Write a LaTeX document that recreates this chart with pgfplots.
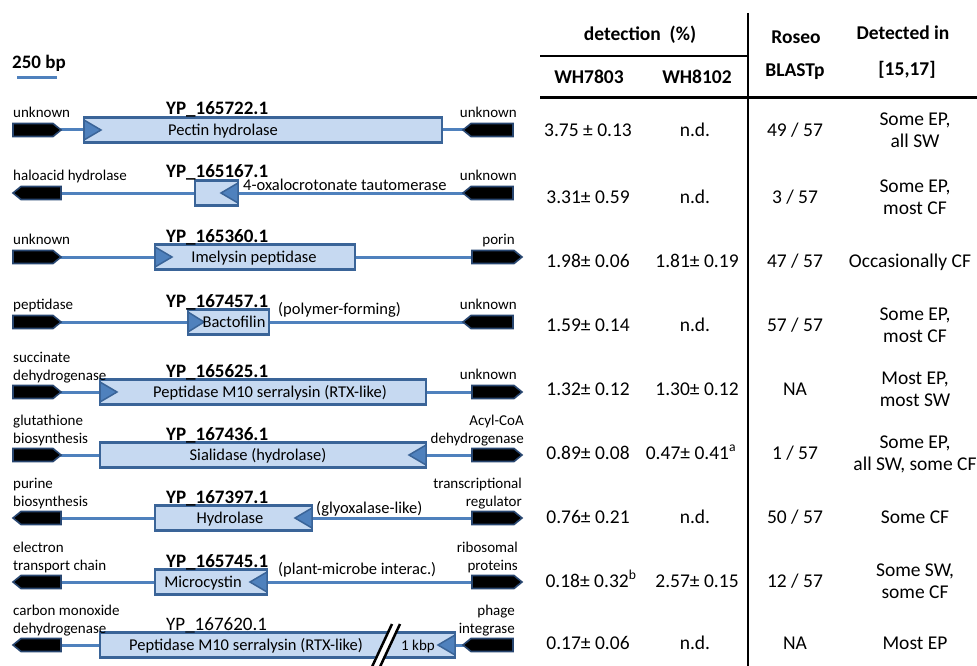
\documentclass[border=0pt]{standalone}
\usepackage{pgfplots}
\pgfplotsset{compat=1.18}
\usepackage{fontspec}
\setmainfont{Carlito}
\definecolor{boxfill}{RGB}{198,217,241}
\definecolor{boxborder}{RGB}{58,100,152}
\definecolor{conncol}{RGB}{79,129,189}
\definecolor{trifill}{RGB}{79,129,189}
\definecolor{arrborder}{RGB}{40,70,112}
\newcommand\fs{\fontsize{15}{18}\selectfont}
\newcommand\fg{\fontsize{16.5}{19}\selectfont}
\newcommand\fid{\fontsize{19}{22}\selectfont\bfseries}
\newcommand\fidn{\fontsize{19}{22}\selectfont}
\newcommand\ft{\fontsize{19.5}{22}\selectfont}
\newcommand\fh{\fontsize{19.5}{23}\selectfont\bfseries}
% black neighbour-gene arrow: back x, neck x, tip x, centre y
\newcommand{\blk}[4]{%
  \pgfmathsetmacro\ya{#4-6.5}\pgfmathsetmacro\yb{#4+6.5}%
  \addplot[fill=black, draw=arrborder, line width=1.6pt, line join=miter, mark=none]
    coordinates {(#1,\ya) (#2,\ya) (#3,#4) (#2,\yb) (#1,\yb)} --cycle;}
% connector line
\newcommand{\conn}[3]{%
  \addplot[draw=conncol, line width=3pt, mark=none] coordinates {(#1,#3) (#2,#3)};}
% gene box
\newcommand{\gbox}[3]{%
  \pgfmathsetmacro\ya{#3-12.5}\pgfmathsetmacro\yb{#3+12.5}%
  \addplot[fill=boxfill, draw=boxborder, line width=2.5pt, line join=miter, mark=none]
    coordinates {(#1,\ya) (#2,\ya) (#2,\yb) (#1,\yb)} --cycle;}
% triangle: base x, tip x, centre y
\newcommand{\tri}[3]{%
  \pgfmathsetmacro\ya{#3-10}\pgfmathsetmacro\yb{#3+10}%
  \addplot[fill=trifill, draw=boxborder, line width=1.5pt, line join=miter, mark=none]
    coordinates {(#1,\ya) (#2,#3) (#1,\yb)} --cycle;}
\begin{document}
\begin{tikzpicture}
\begin{axis}[name=ax, scale only axis, width=977pt, height=666pt,
  xmin=0, xmax=977, ymin=0, ymax=666, y dir=reverse, hide axis, clip=false]
\addplot[draw=none, mark=none] coordinates {(0,0) (977,666)};
% ---------- scale bar ----------
\addplot[draw=conncol, line width=3pt, mark=none] coordinates {(17,78) (57,78)};
\node[anchor=base west, font=\fid, inner sep=0pt] at (axis cs:12,69) {250 bp};
% ---------- row 1 (c=130) ----------
\conn{55}{470}{130}
\blk{13}{53}{61}{130}
\blk{513}{471}{463}{130}
\gbox{84}{442}{130}
\tri{84}{101}{130}
\node[anchor=base west, font=\fs, inner sep=0pt] at (axis cs:13,117.5) {unknown};
\node[anchor=base east, font=\fs, inner sep=0pt] at (axis cs:517,117.5) {unknown};
\node[anchor=base west, font=\fid, inner sep=0pt] at (axis cs:166,115) {YP\_165722.1};
\node[anchor=base, font=\fg, inner sep=0pt] at (axis cs:223,135.5) {Pectin hydrolase};
% ---------- row 2 (c=193) ----------
\conn{55}{470}{193}
\blk{61}{21}{13}{193}
\blk{513}{471}{463}{193}
\gbox{195}{238}{193}
\tri{238}{221}{193}
\node[anchor=base west, font=\fs, inner sep=0pt] at (axis cs:13,180.5) {haloacid hydrolase};
\node[anchor=base east, font=\fs, inner sep=0pt] at (axis cs:517,180.5) {unknown};
\node[anchor=base west, font=\fid, inner sep=0pt] at (axis cs:166,178) {YP\_165167.1};
\node[anchor=base west, font=\fg, inner sep=0pt] at (axis cs:243,190) {4-oxalocrotonate tautomerase};
% ---------- row 3 (c=257) ----------
\conn{55}{478}{257}
\blk{13}{53}{61}{257}
\blk{472}{514}{522}{257}
\gbox{155}{355}{257}
\tri{155}{172}{257}
\node[anchor=base west, font=\fs, inner sep=0pt] at (axis cs:13,244.5) {unknown};
\node[anchor=base east, font=\fs, inner sep=0pt] at (axis cs:515,244.5) {porin};
\node[anchor=base west, font=\fid, inner sep=0pt] at (axis cs:166,242) {YP\_165360.1};
\node[anchor=base, font=\fg, inner sep=0pt] at (axis cs:254,262.5) {Imelysin peptidase};
% ---------- row 4 (c=322) ----------
\conn{55}{470}{322}
\blk{13}{53}{61}{322}
\blk{513}{471}{463}{322}
\gbox{188}{269}{322}
\tri{188}{204}{322}
\node[anchor=base west, font=\fs, inner sep=0pt] at (axis cs:13,309.5) {peptidase};
\node[anchor=base east, font=\fs, inner sep=0pt] at (axis cs:517,309.5) {unknown};
\node[anchor=base west, font=\fid, inner sep=0pt] at (axis cs:166,307) {YP\_167457.1};
\node[anchor=base, font=\fg, inner sep=0pt] at (axis cs:234,327.5) {Bactofilin};
\node[anchor=base west, font=\fg, inner sep=0pt] at (axis cs:278,314) {(polymer-forming)};
% ---------- row 5 (c=392) ----------
\conn{55}{478}{392}
\blk{13}{53}{61}{392}
\blk{472}{514}{522}{392}
\gbox{100}{426}{392}
\tri{100}{117}{392}
\node[anchor=base west, font=\fs, inner sep=0pt] at (axis cs:13,362.5) {succinate};
\node[anchor=base west, font=\fs, inner sep=0pt] at (axis cs:13,380.5) {dehydrogenase};
\node[anchor=base east, font=\fs, inner sep=0pt] at (axis cs:517,379.5) {unknown};
\node[anchor=base west, font=\fid, inner sep=0pt] at (axis cs:166,377) {YP\_165625.1};
\node[anchor=base, font=\fg, inner sep=0pt] at (axis cs:270,397.5) {Peptidase M10 serralysin (RTX-like)};
% ---------- row 6 (c=455) ----------
\conn{55}{478}{455}
\blk{13}{53}{61}{455}
\blk{472}{514}{522}{455}
\gbox{100}{426}{455}
\tri{426}{409}{455}
\node[anchor=base west, font=\fs, inner sep=0pt] at (axis cs:13,425.5) {glutathione};
\node[anchor=base west, font=\fs, inner sep=0pt] at (axis cs:13,443.5) {biosynthesis};
\node[anchor=base east, font=\fs, inner sep=0pt] at (axis cs:524,425.5) {Acyl-CoA};
\node[anchor=base east, font=\fs, inner sep=0pt] at (axis cs:524,443.5) {dehydrogenase};
\node[anchor=base west, font=\fid, inner sep=0pt] at (axis cs:166,440) {YP\_167436.1};
\node[anchor=base, font=\fg, inner sep=0pt] at (axis cs:258,460.5) {Sialidase (hydrolase)};
% ---------- row 7 (c=518) ----------
\conn{55}{478}{518}
\blk{61}{21}{13}{518}
\blk{472}{514}{522}{518}
\gbox{155}{312}{518}
\tri{312}{295}{518}
\node[anchor=base west, font=\fs, inner sep=0pt] at (axis cs:13,488.5) {purine};
\node[anchor=base west, font=\fs, inner sep=0pt] at (axis cs:13,506.5) {biosynthesis};
\node[anchor=base east, font=\fs, inner sep=0pt] at (axis cs:522,488.5) {transcriptional};
\node[anchor=base east, font=\fs, inner sep=0pt] at (axis cs:522,506.5) {regulator};
\node[anchor=base west, font=\fid, inner sep=0pt] at (axis cs:166,503) {YP\_167397.1};
\node[anchor=base, font=\fg, inner sep=0pt] at (axis cs:230,523.5) {Hydrolase};
\node[anchor=base west, font=\fg, inner sep=0pt] at (axis cs:316,513) {(glyoxalase-like)};
% ---------- row 8 (c=582) ----------
\conn{55}{478}{582}
\blk{61}{21}{13}{582}
\blk{472}{514}{522}{582}
\gbox{155}{267}{582}
\tri{267}{250}{582}
\node[anchor=base west, font=\fs, inner sep=0pt] at (axis cs:13,552.5) {electron};
\node[anchor=base west, font=\fs, inner sep=0pt] at (axis cs:13,570.5) {transport chain};
\node[anchor=base east, font=\fs, inner sep=0pt] at (axis cs:518,552.5) {ribosomal};
\node[anchor=base east, font=\fs, inner sep=0pt] at (axis cs:518,570.5) {proteins};
\node[anchor=base west, font=\fid, inner sep=0pt] at (axis cs:166,567) {YP\_165745.1};
\node[anchor=base, font=\fg, inner sep=0pt] at (axis cs:203,587.5) {Microcystin};
\node[anchor=base west, font=\fg, inner sep=0pt] at (axis cs:278,574) {(plant-microbe interac.)};
% ---------- row 9 (c=645) ----------
\conn{55}{470}{645}
\blk{61}{21}{13}{645}
\blk{513}{471}{463}{645}
\gbox{100}{455}{645}
\tri{455}{438}{645}
\addplot[draw=white, line width=7pt, mark=none] coordinates {(374,667) (397,624)};
\addplot[draw=black, line width=2.5pt, mark=none] coordinates {(371,669) (392,624)};
\addplot[draw=black, line width=2.5pt, mark=none] coordinates {(379,669) (400,624)};
\node[anchor=base west, font=\fs, inner sep=0pt] at (axis cs:13,615.5) {carbon monoxide};
\node[anchor=base west, font=\fs, inner sep=0pt] at (axis cs:13,633.5) {dehydrogenase};
\node[anchor=base east, font=\fs, inner sep=0pt] at (axis cs:515,615.5) {phage};
\node[anchor=base east, font=\fs, inner sep=0pt] at (axis cs:515,633.5) {integrase};
\node[anchor=base west, font=\fidn, inner sep=0pt] at (axis cs:166,630) {YP\_167620.1};
\node[anchor=base, font=\fg, inner sep=0pt] at (axis cs:246,650.5) {Peptidase M10 serralysin (RTX-like)};
\node[anchor=base, font=\fs, inner sep=0pt] at (axis cs:418,650.5) {1 kbp};
% ---------- table rules ----------
\addplot[draw=black, line width=2pt, mark=none] coordinates {(748,13) (748,666)};
\addplot[draw=black, line width=2pt, mark=none] coordinates {(540,56) (748,56)};
\addplot[draw=black, line width=3pt, mark=none] coordinates {(540,98) (977,98)};
% ---------- table header ----------
\node[anchor=base, font=\fh, inner sep=0pt] at (axis cs:640,41) {detection\ \ (\%)};
\node[anchor=base, font=\fh, inner sep=0pt] at (axis cs:589,84) {WH7803};
\node[anchor=base, font=\fh, inner sep=0pt] at (axis cs:697,84) {WH8102};
\node[anchor=base, font=\fh, inner sep=0pt] at (axis cs:796,44) {Roseo};
\node[anchor=base, font=\fh, inner sep=0pt] at (axis cs:795,77) {BLASTp};
\node[anchor=base, font=\fh, inner sep=0pt] at (axis cs:903,40) {Detected in};
\node[anchor=base, font=\fh, inner sep=0pt] at (axis cs:907,76) {[15,17]};
% ---------- table body ----------
% row 1
\node[anchor=base, font=\ft, inner sep=0pt] at (axis cs:588,137) {3.75 ± 0.13};
\node[anchor=base, font=\ft, inner sep=0pt] at (axis cs:695,137) {n.d.};
\node[anchor=base, font=\ft, inner sep=0pt] at (axis cs:795,137) {49 / 57};
\node[anchor=base, font=\ft, inner sep=0pt] at (axis cs:915,126) {Some EP,};
\node[anchor=base, font=\ft, inner sep=0pt] at (axis cs:915,148) {all SW};
% row 2
\node[anchor=base, font=\ft, inner sep=0pt] at (axis cs:588,203) {3.31± 0.59};
\node[anchor=base, font=\ft, inner sep=0pt] at (axis cs:695,203) {n.d.};
\node[anchor=base, font=\ft, inner sep=0pt] at (axis cs:795,203) {3 / 57};
\node[anchor=base, font=\ft, inner sep=0pt] at (axis cs:915,192) {Some EP,};
\node[anchor=base, font=\ft, inner sep=0pt] at (axis cs:915,214) {most CF};
% row 3
\node[anchor=base, font=\ft, inner sep=0pt] at (axis cs:588,267) {1.98± 0.06};
\node[anchor=base, font=\ft, inner sep=0pt] at (axis cs:697,267) {1.81± 0.19};
\node[anchor=base, font=\ft, inner sep=0pt] at (axis cs:795,267) {47 / 57};
\node[anchor=base, font=\ft, inner sep=0pt] at (axis cs:910,267) {Occasionally CF};
% row 4
\node[anchor=base, font=\ft, inner sep=0pt] at (axis cs:588,331) {1.59± 0.14};
\node[anchor=base, font=\ft, inner sep=0pt] at (axis cs:695,331) {n.d.};
\node[anchor=base, font=\ft, inner sep=0pt] at (axis cs:795,331) {57 / 57};
\node[anchor=base, font=\ft, inner sep=0pt] at (axis cs:915,320) {Some EP,};
\node[anchor=base, font=\ft, inner sep=0pt] at (axis cs:915,342) {most CF};
% row 5
\node[anchor=base, font=\ft, inner sep=0pt] at (axis cs:588,395) {1.32± 0.12};
\node[anchor=base, font=\ft, inner sep=0pt] at (axis cs:697,395) {1.30± 0.12};
\node[anchor=base, font=\ft, inner sep=0pt] at (axis cs:795,395) {NA};
\node[anchor=base, font=\ft, inner sep=0pt] at (axis cs:915,384) {Most EP,};
\node[anchor=base, font=\ft, inner sep=0pt] at (axis cs:915,406) {most SW};
% row 6
\node[anchor=base, font=\ft, inner sep=0pt] at (axis cs:588,459) {0.89± 0.08};
\node[anchor=base, font=\ft, inner sep=0pt] at (axis cs:691,459) {0.47± 0.41\textsuperscript{a}};
\node[anchor=base, font=\ft, inner sep=0pt] at (axis cs:795,459) {1 / 57};
\node[anchor=base, font=\ft, inner sep=0pt] at (axis cs:915,448) {Some EP,};
\node[anchor=base, font=\ft, inner sep=0pt] at (axis cs:915,470) {all SW, some CF};
% row 7
\node[anchor=base, font=\ft, inner sep=0pt] at (axis cs:588,523) {0.76± 0.21};
\node[anchor=base, font=\ft, inner sep=0pt] at (axis cs:695,523) {n.d.};
\node[anchor=base, font=\ft, inner sep=0pt] at (axis cs:795,523) {50 / 57};
\node[anchor=base, font=\ft, inner sep=0pt] at (axis cs:915,523) {Some CF};
% row 8
\node[anchor=base, font=\ft, inner sep=0pt] at (axis cs:591,587) {0.18± 0.32\textsuperscript{b}};
\node[anchor=base, font=\ft, inner sep=0pt] at (axis cs:697,587) {2.57± 0.15};
\node[anchor=base, font=\ft, inner sep=0pt] at (axis cs:795,587) {12 / 57};
\node[anchor=base, font=\ft, inner sep=0pt] at (axis cs:915,576) {Some SW,};
\node[anchor=base, font=\ft, inner sep=0pt] at (axis cs:915,598) {some CF};
% row 9
\node[anchor=base, font=\ft, inner sep=0pt] at (axis cs:588,649) {0.17± 0.06};
\node[anchor=base, font=\ft, inner sep=0pt] at (axis cs:695,649) {n.d.};
\node[anchor=base, font=\ft, inner sep=0pt] at (axis cs:795,649) {NA};
\node[anchor=base, font=\ft, inner sep=0pt] at (axis cs:915,649) {Most EP};
\end{axis}
\pgfresetboundingbox
\path[use as bounding box] (ax.south west) rectangle (ax.north east);
\end{tikzpicture}
\end{document}
